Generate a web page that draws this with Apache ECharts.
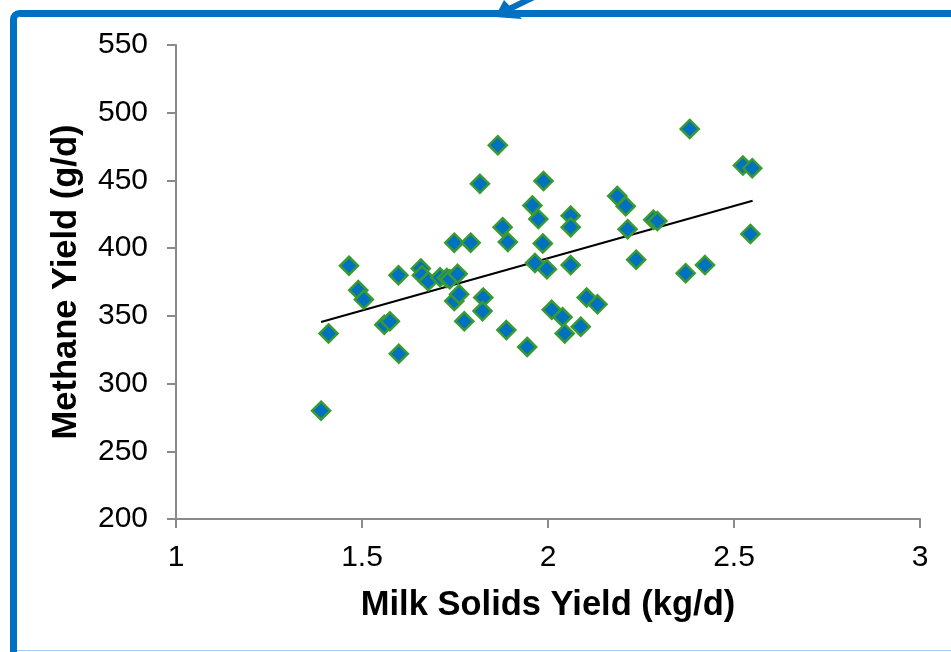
<!DOCTYPE html>
<html>
<head>
<meta charset="utf-8">
<script src="https://cdn.jsdelivr.net/npm/echarts@6/dist/echarts.min.js"></script>
<style>
html,body{margin:0;padding:0;background:#fff;}
#chart{width:951px;height:652px;}
</style>
</head>
<body>
<div id="chart"></div>
<script>
// Milk solids yield (kg/d)
var milkSolids = [1.39,1.41,1.465,1.49,1.505,1.56,1.575,1.598,1.599,1.658,1.661,1.678,1.71,1.728,1.736,1.757,1.748,1.792,1.748,1.761,1.775,1.826,1.824,1.888,1.865,1.817,1.988,1.958,1.974,1.878,1.892,1.986,2.061,2.061,1.965,1.997,2.061,2.186,2.209,2.214,2.283,2.294,2.237,1.944,2.01,2.039,2.045,2.104,2.133,2.088,2.381,2.524,2.549,2.544,2.422,2.37];
// Methane yield (g/d)
var methane = [280,337,387,369,362,343.5,346,380,322,385,380,375.5,378.5,378,377,381,404,404,361,366,346,363.5,353.5,339.5,476,447.5,449.5,431.5,421.5,415.5,404.5,403.5,424,415.5,389,384.5,387.5,438.5,431,414,421,420,391.5,327,354.5,349,337,363.5,358.5,342,488,461,459,410.5,387.5,381.5];
// Linear trend line endpoints
var trendX = [1.39, 2.55];
var trendY = [345.5, 435];
var xTicks = {min: 1, max: 3, interval: 0.5};
var yTicks = {min: 200, max: 550, interval: 50};

var points = milkSolids.map(function(x, i){ return [x, methane[i]]; });
var trend = trendX.map(function(x, i){ return [x, trendY[i]]; });

var chart = echarts.init(document.getElementById('chart'), null, {renderer: 'canvas'});
var axisColor = '#8a8a8a';
chart.setOption({
  animation: false,
  backgroundColor: '#ffffff',
  grid: {left: 176, right: 31, top: 45, bottom: 133, containLabel: false},
  xAxis: {
    type: 'value', min: xTicks.min, max: xTicks.max, interval: xTicks.interval,
    name: 'Milk Solids Yield (kg/d)', nameLocation: 'middle', nameGap: 69,
    nameTextStyle: {fontFamily: 'Liberation Sans, Arial', fontWeight: 'bold', fontSize: 34.5, color: '#000'},
    axisLine: {show: true, onZero: false, lineStyle: {color: axisColor, width: 2}},
    axisTick: {show: true, inside: false, length: 9, lineStyle: {color: axisColor, width: 2}},
    splitLine: {show: false},
    axisLabel: {fontFamily: 'Liberation Sans, Arial', fontSize: 30, color: '#000', margin: 24}
  },
  yAxis: {
    type: 'value', min: yTicks.min, max: yTicks.max, interval: yTicks.interval,
    name: 'Methane Yield (g/d)', nameLocation: 'middle', nameGap: 92, nameRotate: 90,
    nameTextStyle: {fontFamily: 'Liberation Sans, Arial', fontWeight: 'bold', fontSize: 34.5, color: '#000'},
    axisLine: {show: true, onZero: false, lineStyle: {color: axisColor, width: 2}},
    axisTick: {show: true, inside: false, length: 9, lineStyle: {color: axisColor, width: 2}},
    splitLine: {show: false},
    axisLabel: {fontFamily: 'Liberation Sans, Arial', fontSize: 30, color: '#000', margin: 28}
  },
  series: [
    {
      type: 'line', data: trend, symbol: 'none', silent: true, z: 3,
      lineStyle: {color: '#000', width: 2}
    },
    {
      type: 'scatter', data: points, symbol: 'diamond', symbolSize: 18, z: 4,
      itemStyle: {color: '#0070C0', borderColor: '#3a9a32', borderWidth: 2.5, opacity: 1}
    }
  ],
  graphic: [
    {
      type: 'polyline', z: 100,
      shape: {points: [[540, -6], [503, 12]]},
      style: {stroke: '#0070C0', lineWidth: 6, fill: null}
    },
    {
      type: 'polygon', z: 100,
      shape: {points: [[495, 17], [504, 0], [522, 19]]},
      style: {fill: '#0070C0'}
    },
    {
      type: 'rect', z: 100,
      shape: {x: 13.5, y: 13.5, width: 1000, height: 660, r: 6},
      style: {stroke: '#0070C0', lineWidth: 7, fill: null}
    },
    {
      type: 'line', z: 99,
      shape: {x1: 17, y1: 650.5, x2: 951, y2: 650.5},
      style: {stroke: '#a9cbe8', lineWidth: 1}
    }
  ]
});
</script>
</body>
</html>
